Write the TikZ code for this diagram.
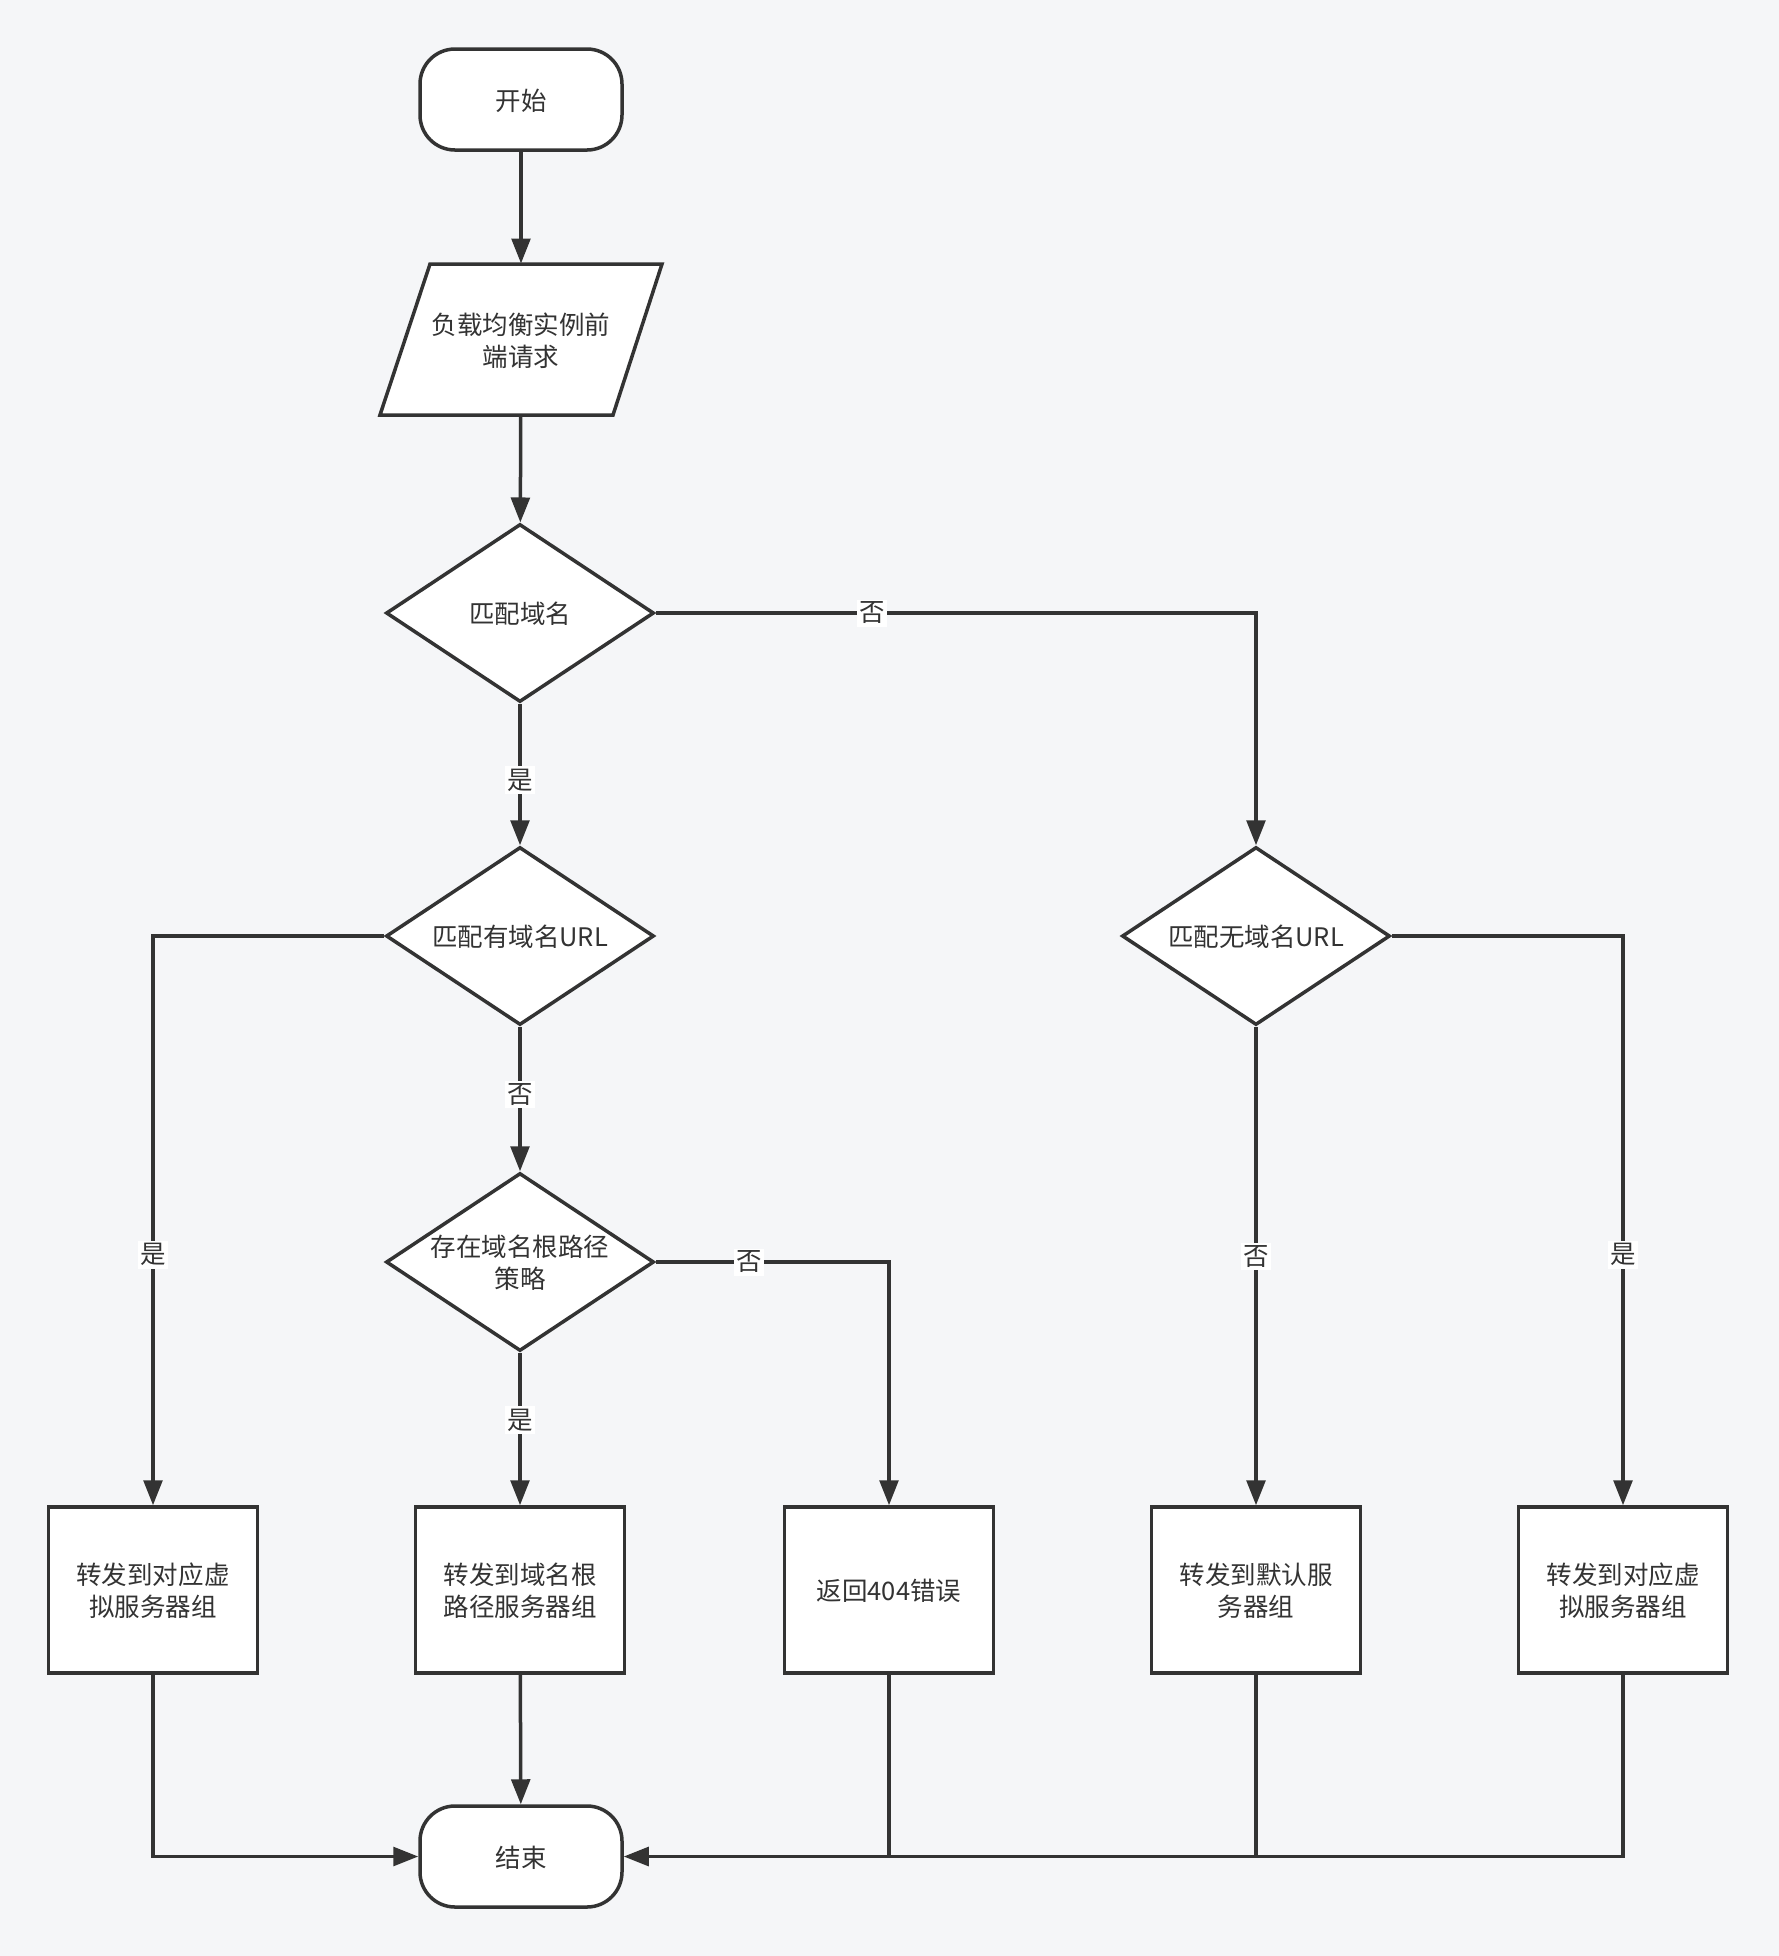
\documentclass[tikz,border=0pt]{standalone}
\usepackage{fontspec}
\setmainfont{Noto Sans CJK SC}
\usetikzlibrary{shapes.geometric,arrows.meta}

\definecolor{pagebg}{HTML}{F5F6F8}
\definecolor{ink}{HTML}{333333}

\tikzset{
  label text/.style={text=ink, align=center, text depth=-2.6pt,
    font=\fontsize{10.2pt}{12.8pt}\selectfont},
  base/.style={label text, draw=ink, line width=1.4pt, fill=white},
  terminal/.style={base, rounded corners=14pt, minimum width=80.8pt, minimum height=40.4pt},
  inout/.style={label text, inner sep=0pt, minimum width=92.8pt, minimum height=60.4pt},
  decision/.style={base, diamond, aspect=1.5, minimum width=107.2pt, minimum height=71.2pt, inner sep=0pt},
  process/.style={base, rectangle, minimum width=83.6pt, minimum height=66.4pt},
  link/.style={draw=ink, line width=1.4pt},
  flow/.style={link, -{Triangle[length=10pt,width=7.5pt]}},
  answer/.style={fill=white, text=ink, inner sep=1pt, font=\fontsize{10.2pt}{12.8pt}\selectfont},
}

\begin{document}
\begin{tikzpicture}[x=0.4pt, y=-0.4pt]

% page background
\fill[pagebg] (0,0) rectangle (1779,1956);

% draw main column
\node[terminal] (start) at (521, 99.5) {开始};
\draw[base] (430,264) -- (662,264) -- (613,415) -- (380,415) -- cycle;
\node[inout] (request) at (521, 339.5) {负载均衡实例前\\端请求};
\node[decision] (domain) at (520, 613) {匹配域名};
\node[decision] (domainurl) at (520, 936) {匹配有域名URL};
\node[decision] (rootpath) at (520, 1262) {存在域名根路径\\策略};
\node[decision] (nodomainurl) at (1256, 936) {匹配无域名URL};

% draw targets
\node[process] (vgroupa) at (153, 1590) {转发到对应虚\\拟服务器组};
\node[process] (rootgroup) at (520, 1590) {转发到域名根\\路径服务器组};
\node[process] (notfound) at (889, 1590) {返回404错误};
\node[process] (defaultgroup) at (1256, 1590) {转发到默认服\\务器组};
\node[process] (vgroupb) at (1623, 1590) {转发到对应虚\\拟服务器组};

\node[terminal] (end) at (521, 1856.5) {结束};

% draw decisions
\draw[flow] (start) -- (request);
\draw[flow] (request) -- (domain);
\draw[flow] (domain.east) -| node[answer, pos=0.18] {否} (nodomainurl.north);
\draw[flow] (domain) -- node[answer, pos=0.54] {是} (domainurl);
\draw[flow] (domainurl.west) -| node[answer, pos=0.78] {是} (vgroupa.north);
\draw[flow] (domainurl) -- node[answer, pos=0.47] {否} (rootpath);
\draw[flow] (rootpath) -- node[answer, pos=0.44] {是} (rootgroup);
\draw[flow] (rootpath.east) -| node[answer, pos=0.2] {否} (notfound.north);
\draw[flow] (nodomainurl) -- node[answer, pos=0.48] {否} (defaultgroup);
\draw[flow] (nodomainurl.east) -| node[answer, pos=0.78] {是} (vgroupb.north);

% draw returns
\draw[flow] (vgroupa.south) |- (end.west);
\draw[flow] (rootgroup) -- (end);
\draw[link] (notfound.south) -- (notfound.south |- end.east);
\draw[link] (defaultgroup.south) -- (defaultgroup.south |- end.east);
\draw[flow] (vgroupb.south) |- (end.east);

\end{tikzpicture}
\end{document}
